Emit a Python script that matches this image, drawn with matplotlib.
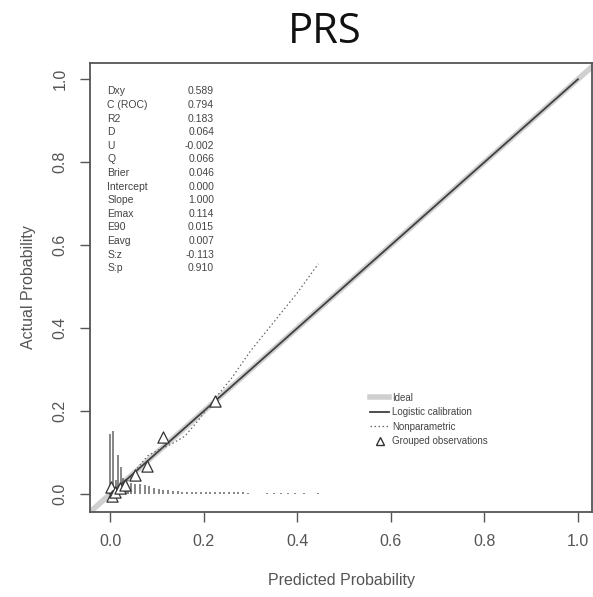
import matplotlib
matplotlib.use("Agg")
import matplotlib.pyplot as plt
from matplotlib.lines import Line2D

plt.rcParams['font.family'] = ['Liberation Sans', 'DejaVu Sans']

# calibration statistics shown in the top-left corner
stat_names = ["Dxy", "C (ROC)", "R2", "D", "U", "Q", "Brier", "Intercept",
              "Slope", "Emax", "E90", "Eavg", "S:z", "S:p"]
stat_values = ["0.589", "0.794", "0.183", "0.064", "-0.002", "0.066", "0.046",
               "0.000", "1.000", "0.114", "0.015", "0.007", "-0.113", "0.910"]

# logistic calibration (intercept 0, slope 1)
logit_x = [0.0, 1.0]
logit_y = [0.0, 1.0]

# nonparametric (lowess) curve
np_x = [0.0, 0.02, 0.04, 0.06, 0.08, 0.10, 0.13, 0.16, 0.19, 0.22,
        0.26, 0.30, 0.35, 0.40, 0.445]
np_y = [0.008, 0.018, 0.035, 0.065, 0.092, 0.105, 0.12, 0.14, 0.18, 0.225,
        0.28, 0.345, 0.415, 0.485, 0.555]

# grouped observations (deciles)
grp_x = [0.002, 0.005, 0.011, 0.021, 0.032, 0.053, 0.079, 0.113, 0.224]
grp_y = [0.017, -0.004, 0.006, 0.014, 0.022, 0.046, 0.067, 0.137, 0.224]

# histogram spikes of predicted probabilities
hist_x = [0.0, 0.006, 0.012, 0.017, 0.023, 0.028, 0.033, 0.038, 0.044,
          0.054, 0.064, 0.074, 0.084, 0.094, 0.104, 0.114, 0.124, 0.134,
          0.144, 0.154, 0.164, 0.174, 0.184, 0.194, 0.204, 0.214, 0.224,
          0.234, 0.244, 0.254, 0.264, 0.274, 0.284, 0.295, 0.335, 0.35,
          0.365, 0.38, 0.395, 0.415, 0.445]
hist_h = [0.145, 0.152, 0.035, 0.094, 0.065, 0.04, 0.028, 0.022, 0.026,
          0.025, 0.024, 0.022, 0.02, 0.016, 0.012, 0.01, 0.01, 0.008,
          0.007, 0.006, 0.006, 0.006, 0.005, 0.005, 0.005, 0.005, 0.005,
          0.004, 0.004, 0.004, 0.004, 0.004, 0.004, 0.003, 0.003, 0.002,
          0.003, 0.003, 0.003, 0.003, 0.003]

ticks = [0.0, 0.2, 0.4, 0.6, 0.8, 1.0]

fig = plt.figure(figsize=(5.93, 5.97), dpi=100)
ax = fig.add_axes([0.1518, 0.1424, 0.8465, 0.752])

ax.plot([-0.1, 1.1], [-0.1, 1.1], color="#d0d0d0", lw=4, solid_capstyle="butt", zorder=1)
ax.plot(logit_x, logit_y, color="#404040", lw=1.3, zorder=3)
ax.plot(np_x, np_y, color="#666666", lw=0.9, ls=(0, (1.2, 2)), zorder=3)
ax.scatter(grp_x, grp_y, marker="^", s=65, facecolors="white",
           edgecolors="#333333", linewidths=0.9, zorder=4)
ax.vlines(hist_x, 0, hist_h, color="#666666", lw=1.1, zorder=2)

ax.set_xlim(-0.043, 1.03)
ax.set_ylim(-0.043, 1.039)
ax.set_xticks(ticks)
ax.set_yticks(ticks)
ax.set_xticklabels([f"{t:.1f}" for t in ticks])
ax.set_yticklabels([f"{t:.1f}" for t in ticks], rotation=90, va="center")
ax.tick_params(length=7, width=1, colors="#555555", labelcolor="#555555",
               labelsize=11.5, pad=9)
for s in ax.spines.values():
    s.set_color("#555555")
    s.set_linewidth(1.3)

ax.set_xlabel("Predicted Probability", fontsize=11.5, color="#555555", labelpad=17)
ax.set_ylabel("Actual Probability", fontsize=11.5, color="#555555", labelpad=12)
fig.text(0.548, 0.947, "PRS", fontsize=30, ha="center", va="center",
         family=["Open Sans", "DejaVu Sans"], color="#111111")

# statistics block
for i, (n, v) in enumerate(zip(stat_names, stat_values)):
    y = 0.937 - i * 0.0303
    ax.text(0.034, y, n, transform=ax.transAxes, fontsize=7.5, color="#444444",
            va="center", ha="left")
    ax.text(0.247, y, v, transform=ax.transAxes, fontsize=7.5, color="#444444",
            va="center", ha="right")

handles = [
    Line2D([], [], color="#d0d0d0", lw=4),
    Line2D([], [], color="#404040", lw=1.3),
    Line2D([], [], color="#666666", lw=0.9, ls=(0, (1.2, 2))),
    Line2D([], [], marker="^", ls="none", markerfacecolor="white",
           markeredgecolor="#333333", markersize=6),
]
labels = ["Ideal", "Logistic calibration", "Nonparametric", "Grouped observations"]
ax.legend(handles, labels, loc="upper left", bbox_to_anchor=(0.54, 0.285),
          frameon=False, fontsize=7, handlelength=2.0, handletextpad=0.3,
          labelspacing=0.45, labelcolor="#444444")

plt.savefig("out.png", dpi=100)
